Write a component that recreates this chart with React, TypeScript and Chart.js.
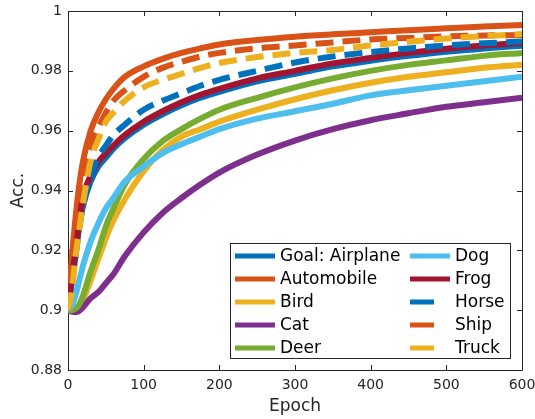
import { useEffect, useRef } from "react";
import { Chart, registerables } from "chart.js";

Chart.register(...registerables);

const epochs = [0, 5, 10, 15, 20, 30, 40, 50, 60, 75, 100, 125, 150, 175, 200, 250, 300, 350, 400, 450, 500, 550, 600];

const airplane = [0.900, 0.909, 0.918, 0.928, 0.935, 0.943, 0.948, 0.951, 0.954, 0.9575, 0.962, 0.9655, 0.9685, 0.971, 0.973, 0.9765, 0.979, 0.9815, 0.9834, 0.985, 0.9864, 0.9875, 0.9884];
const automobile = [0.900, 0.917, 0.931, 0.942, 0.950, 0.960, 0.966, 0.9705, 0.974, 0.978, 0.9815, 0.984, 0.986, 0.9875, 0.9888, 0.9903, 0.9914, 0.9922, 0.9929, 0.9936, 0.9942, 0.9948, 0.9953];
const bird = [0.900, 0.900, 0.9005, 0.9015, 0.9035, 0.910, 0.917, 0.924, 0.930, 0.937, 0.9465, 0.9535, 0.958, 0.9605, 0.963, 0.967, 0.9705, 0.9735, 0.976, 0.978, 0.9795, 0.981, 0.982];
const cat = [0.900, 0.8995, 0.8993, 0.8998, 0.901, 0.904, 0.906, 0.909, 0.912, 0.918, 0.926, 0.9325, 0.9375, 0.942, 0.946, 0.952, 0.9567, 0.9605, 0.9635, 0.9658, 0.968, 0.9695, 0.971];
const deer = [0.900, 0.900, 0.9005, 0.902, 0.905, 0.913, 0.920, 0.928, 0.934, 0.942, 0.9505, 0.9565, 0.9605, 0.964, 0.967, 0.971, 0.9745, 0.9775, 0.980, 0.982, 0.9835, 0.985, 0.986];
const dog = [0.900, 0.9015, 0.905, 0.910, 0.915, 0.923, 0.929, 0.934, 0.9375, 0.943, 0.948, 0.9525, 0.9555, 0.958, 0.9605, 0.964, 0.9665, 0.969, 0.9718, 0.9735, 0.975, 0.9765, 0.978];
const frog = [0.900, 0.911, 0.920, 0.930, 0.938, 0.945, 0.9495, 0.9525, 0.955, 0.9585, 0.963, 0.9665, 0.9695, 0.972, 0.974, 0.9775, 0.980, 0.9825, 0.9843, 0.986, 0.9874, 0.9885, 0.9893];
const horse = [0.900, 0.910, 0.919, 0.928, 0.935, 0.945, 0.951, 0.955, 0.9585, 0.962, 0.967, 0.970, 0.9725, 0.975, 0.977, 0.980, 0.9828, 0.9848, 0.9863, 0.9875, 0.9885, 0.9892, 0.9898];
const ship = [0.900, 0.916, 0.929, 0.939, 0.946, 0.955, 0.961, 0.966, 0.970, 0.9735, 0.978, 0.981, 0.983, 0.9848, 0.986, 0.9875, 0.9885, 0.9895, 0.9905, 0.991, 0.9915, 0.9918, 0.992];
const truck = [0.900, 0.906, 0.918, 0.927, 0.936, 0.950, 0.957, 0.963, 0.966, 0.970, 0.9745, 0.977, 0.979, 0.981, 0.9826, 0.9846, 0.986, 0.987, 0.9885, 0.9897, 0.9908, 0.9916, 0.9923];

const seriesNames = ["Goal: Airplane", "Automobile", "Bird", "Cat", "Deer", "Dog", "Frog", "Horse", "Ship", "Truck"];
const seriesValues = [airplane, automobile, bird, cat, deer, dog, frog, horse, ship, truck];
const seriesColors = ["#0072BD", "#D95319", "#EDB120", "#7E2F8E", "#77AC30", "#4DBEEE", "#A2142F", "#0072BD", "#D95319", "#EDB120"];
const seriesDashed = [false, false, false, false, false, false, false, true, true, true];

const xTicks = [0, 100, 200, 300, 400, 500, 600];
const yTicks = [0.88, 0.9, 0.92, 0.94, 0.96, 0.98, 1];

const FONT = "'DejaVu Sans', sans-serif";
const AXIS_COLOR = "#262626";

const matlabPlugin = {
  id: "matlabAxes",
  beforeDatasetsDraw(chart: any) {
    const { ctx, chartArea } = chart;
    const { left, right, top, bottom } = chartArea;
    ctx.save();
    ctx.strokeStyle = AXIS_COLOR;
    ctx.lineWidth = 1;
    ctx.beginPath();
    ctx.rect(Math.round(left) + 0.5, Math.round(top) + 0.5, Math.round(right - left), Math.round(bottom - top));
    ctx.stroke();
    const tl = 5;
    const xs = chart.scales.x;
    const ys = chart.scales.y;
    ctx.beginPath();
    xs.ticks.forEach((t: any) => {
      const px = Math.round(xs.getPixelForValue(t.value)) + 0.5;
      ctx.moveTo(px, bottom);
      ctx.lineTo(px, bottom - tl);
      ctx.moveTo(px, top);
      ctx.lineTo(px, top + tl);
    });
    ys.ticks.forEach((t: any) => {
      const py = Math.round(ys.getPixelForValue(t.value)) + 0.5;
      ctx.moveTo(left, py);
      ctx.lineTo(left + tl, py);
      ctx.moveTo(right, py);
      ctx.lineTo(right - tl, py);
    });
    ctx.stroke();
    ctx.restore();
  },
  afterDatasetsDraw(chart: any) {
    const { ctx, chartArea } = chart;
    const boxRight = chartArea.right - 12;
    const boxBottom = chartArea.bottom - 12;
    const boxW = 280;
    const boxH = 115;
    const boxLeft = boxRight - boxW;
    const boxTop = boxBottom - boxH;
    ctx.save();
    ctx.fillStyle = "#ffffff";
    ctx.fillRect(boxLeft, boxTop, boxW, boxH);
    ctx.strokeStyle = AXIS_COLOR;
    ctx.lineWidth = 1;
    ctx.strokeRect(Math.round(boxLeft) + 0.5, Math.round(boxTop) + 0.5, boxW, boxH);
    const rowH = 23;
    const firstRow = boxTop + 13;
    const colX = [boxLeft + 5, boxLeft + 180];
    ctx.font = `17px ${FONT}`;
    ctx.textBaseline = "middle";
    ctx.textAlign = "left";
    chart.data.datasets.forEach((ds: any, i: number) => {
      const col = Math.floor(i / 5);
      const row = i % 5;
      const y = firstRow + row * rowH;
      const x0 = colX[col];
      ctx.beginPath();
      ctx.strokeStyle = ds.borderColor;
      ctx.lineWidth = 5;
      ctx.setLineDash(ds.borderDash && ds.borderDash.length ? [24, 16] : []);
      ctx.moveTo(x0, y);
      ctx.lineTo(x0 + 40, y);
      ctx.stroke();
      ctx.setLineDash([]);
      ctx.fillStyle = "#000000";
      ctx.fillText(ds.label, x0 + 45, y + 1);
    });
    ctx.restore();
  },
};

export default function App() {
  const canvasRef = useRef<HTMLCanvasElement | null>(null);

  useEffect(() => {
    if (!canvasRef.current) return;
    const datasets = seriesNames.map((name, i) => ({
      label: name,
      data: epochs.map((e, j) => ({ x: e, y: seriesValues[i][j] })),
      borderColor: seriesColors[i],
      backgroundColor: seriesColors[i],
      borderWidth: 6,
      borderDash: seriesDashed[i] ? [18, 9] : [],
      pointRadius: 0,
      cubicInterpolationMode: "monotone" as const,
      fill: false,
      order: seriesNames.length - i,
    }));

    const chart = new Chart(canvasRef.current, {
      type: "line",
      data: { datasets },
      options: {
        animation: false,
        responsive: false,
        devicePixelRatio: 1,
        layout: { padding: { left: 0, top: 11, right: 13, bottom: 0 } },
        plugins: { legend: { display: false }, tooltip: { enabled: false } },
        scales: {
          x: {
            type: "linear",
            min: 0,
            max: 600,
            grid: { display: false, drawTicks: false },
            border: { display: false },
            ticks: {
              padding: 7,
              color: AXIS_COLOR,
              font: { family: FONT, size: 14 },
              autoSkip: false,
              maxRotation: 0,
              callback: (v: any) => String(v),
            },
            afterBuildTicks: (axis: any) => {
              axis.ticks = xTicks.map((v) => ({ value: v }));
            },
            afterFit: (axis: any) => {
              axis.height = 49;
              axis.paddingLeft = 0;
              axis.paddingRight = 0;
            },
            title: {
              display: true,
              text: "Epoch",
              color: AXIS_COLOR,
              font: { family: FONT, size: 17 },
              padding: { top: 0, bottom: 2 },
            },
          },
          y: {
            type: "linear",
            min: 0.88,
            max: 1,
            grid: { display: false, drawTicks: false },
            border: { display: false },
            ticks: {
              padding: 6,
              color: AXIS_COLOR,
              font: { family: FONT, size: 14 },
              autoSkip: false,
              callback: (v: any) => String(Number(Number(v).toFixed(2))),
            },
            afterBuildTicks: (axis: any) => {
              axis.ticks = yTicks.map((v) => ({ value: v }));
            },
            afterFit: (axis: any) => {
              axis.width = 68;
              axis.paddingTop = 0;
              axis.paddingBottom = 0;
            },
            title: {
              display: true,
              text: "Acc.",
              color: AXIS_COLOR,
              font: { family: FONT, size: 17 },
              padding: { top: 8, bottom: 0 },
            },
          },
        },
      },
      plugins: [matlabPlugin],
    });

    return () => {
      chart.destroy();
    };
  }, []);

  return (
    <div style={{ position: "absolute", left: 0, top: 0, width: 535, height: 419, background: "#ffffff" }}>
      <canvas ref={canvasRef} width={535} height={419} style={{ display: "block", width: 535, height: 419 }} />
    </div>
  );
}
